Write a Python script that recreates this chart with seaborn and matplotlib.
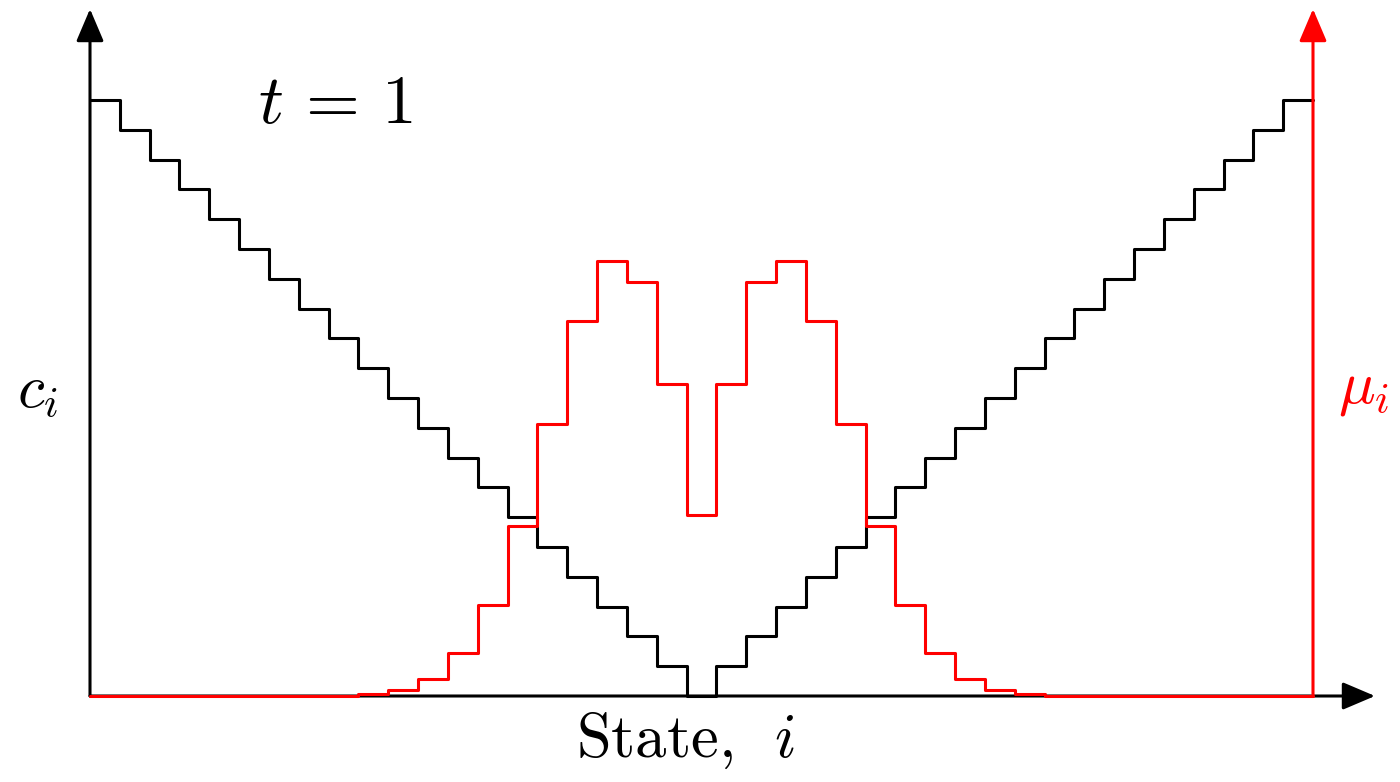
import numpy as np
import pandas as pd
import matplotlib
matplotlib.use("Agg")
import matplotlib.pyplot as plt
import seaborn as sns

sns.set_style("white")
plt.rcParams["mathtext.fontset"] = "cm"
plt.rcParams["font.family"] = ["DejaVu Sans"]
plt.rcParams["text.color"] = "black"
plt.rcParams["axes.formatter.use_mathtext"] = True

# ---- data ----
states = list(range(41))                      # state index i (41 states)
cost = [abs(i - 20) for i in states]          # c_i (black staircase)
mu = ([0.0] * 9 +
      [0.00034, 0.00135, 0.0038, 0.0097, 0.0204, 0.0382, 0.0611, 0.0842,
       0.0977, 0.0930, 0.0700, 0.0406, 0.0700, 0.0930, 0.0977, 0.0842,
       0.0611, 0.0382, 0.0204, 0.0097, 0.0038, 0.00135, 0.00034] +
      [0.0] * 9)                              # mu_i (red staircase)

title_text = r"$t\,=\,1$"
xlabel_text = r"State, $\,\,i$"
ylabel_left = r"$c_i$"
ylabel_right = r"$\mu_i$"

W, H = 1400, 782
fig = plt.figure(figsize=(W / 100, H / 100), dpi=100)
x0, x1, yb, yt = 90, 1313, 696, 9
ax = fig.add_axes([x0 / W, (H - yb) / H, (x1 - x0) / W, (yb - yt) / H])
ax2 = ax.twinx()

lw = 2.2
edges = np.arange(len(states) + 1)
df_c = pd.DataFrame({"x": edges, "y": cost + [cost[-1]]})
df_m = pd.DataFrame({"x": edges, "y": mu + [mu[-1]]})

sns.lineplot(data=df_c, x="x", y="y", ax=ax, color="black", lw=lw,
             drawstyle="steps-post", estimator=None, legend=False, clip_on=False)
sns.lineplot(data=df_m, x="x", y="y", ax=ax2, color="#ff0000", lw=lw,
             drawstyle="steps-post", estimator=None, legend=False, zorder=5,
             clip_on=False)

ax.set_xlim(0, len(states))
ax.set_ylim(0, 687 / 29.8)
ax2.set_ylim(0, 0.1542)

for a in (ax, ax2):
    for s in a.spines.values():
        s.set_visible(False)
    a.set_xticks([])
    a.set_yticks([])
    a.set_xlabel("")
    a.set_ylabel("")
    a.patch.set_visible(False)

arrow = "-|>,head_length=0.4,head_width=0.17"
ax.annotate("", xy=((1375 - x0) / (x1 - x0), 0), xytext=(0, 0),
            xycoords="axes fraction", textcoords="axes fraction",
            arrowprops=dict(arrowstyle=arrow, mutation_scale=50, lw=lw,
                            color="black", shrinkA=0, shrinkB=0))
ax.annotate("", xy=(0, 1), xytext=(0, 0),
            xycoords="axes fraction", textcoords="axes fraction",
            arrowprops=dict(arrowstyle=arrow, mutation_scale=50, lw=lw,
                            color="black", shrinkA=0, shrinkB=0))
ax2.annotate("", xy=(1, 1), xytext=(1, 0),
             xycoords="axes fraction", textcoords="axes fraction",
             arrowprops=dict(arrowstyle=arrow, mutation_scale=50, lw=lw,
                             color="#ff0000", shrinkA=0, shrinkB=0),
             zorder=6)

fig.text(335 / W, (H - 123) / H, title_text, fontsize=50, ha="center",
         va="baseline", color="black")
fig.text(686 / W, (H - 757) / H, xlabel_text, fontsize=45, ha="center",
         va="baseline", color="black", fontfamily="cmr10")
fig.text(38 / W, (H - 407) / H, ylabel_left, fontsize=44, ha="center",
         va="baseline", color="black")
fig.text(1364 / W, (H - 402) / H, ylabel_right, fontsize=44, ha="center",
         va="baseline", color="#ff0000")

fig.savefig("out.png", dpi=100)
